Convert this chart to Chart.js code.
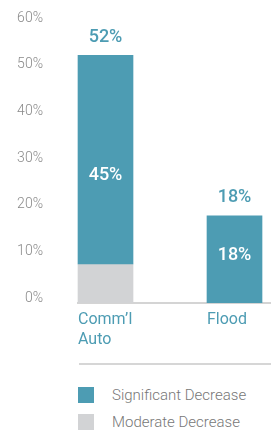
<!DOCTYPE html>
<html>
<head>
<meta charset="utf-8">
<script src="https://cdn.jsdelivr.net/npm/chart.js@4/dist/chart.umd.min.js"></script>
<style>
  html, body { margin: 0; padding: 0; background: #fff; }
  #wrap { position: relative; width: 271px; height: 350px; }
  #legend { position: relative; width: 271px; height: 80px; font-family: Roboto, sans-serif; }
  #sep { position: absolute; left: 79px; top: 13px; width: 192px; height: 2px; background: #d6d6d6; }
  .item { position: absolute; left: 78px; height: 16px; display: flex; align-items: center; }
  .sw { width: 16px; height: 16px; }
  .lt { position: absolute; left: 34px; white-space: nowrap; font-size: 15px; font-weight: 300; color: #777; line-height: 16px; }
</style>
</head>
<body>
<div id="wrap"><canvas id="c"></canvas></div>
<div id="legend">
  <div id="sep"></div>
  <div class="item" style="top:37px"><div class="sw" id="sw0"></div><span class="lt" id="lt0"></span></div>
  <div class="item" style="top:64px"><div class="sw" id="sw1"></div><span class="lt" id="lt1"></span></div>
</div>
<script>
const categories = [["Comm\u2019l", "Auto"], "Flood"];
const seriesNames = ["Significant Decrease", "Moderate Decrease"];
const significant = [44.7, 17.6];
const moderate = [7.3, 0];
const yTicks = [0, 10, 20, 30, 40, 50, 60];

const TEAL = '#4d9cb3';
const GRAY = '#d2d3d5';
const FLOOR = -1;

const modData = moderate.map((m, i) => ({ x: i, y: m > 0 ? [FLOOR, m] : null }));
const sigData = significant.map((s, i) => {
  const start = moderate[i] > 0 ? moderate[i] : FLOOR;
  return { x: i, y: [start, moderate[i] + s] };
});

const labelPlugin = {
  id: 'barLabels',
  afterDatasetsDraw(chart) {
    const ctx = chart.ctx;
    const meta = chart.getDatasetMeta(0);
    const yScale = chart.scales.y;
    ctx.save();
    ctx.textAlign = 'center';
    ctx.textBaseline = 'middle';
    ctx.font = '500 18px Roboto';
    meta.data.forEach((el, i) => {
      const total = significant[i] + moderate[i];
      ctx.fillStyle = TEAL;
      ctx.fillText(Math.round(total) + '%', el.x, el.y - 18);
      ctx.fillStyle = '#ffffff';
      ctx.fillText(Math.round(significant[i]) + '%', el.x, yScale.getPixelForValue(total / 2) - 1);
    });
    ctx.restore();
  }
};

new Chart(document.getElementById('c'), {
  type: 'bar',
  data: {
    datasets: [
      { label: seriesNames[0], data: sigData, backgroundColor: TEAL, grouped: false, barThickness: 55, borderWidth: 0, clip: false },
      { label: seriesNames[1], data: modData, backgroundColor: GRAY, grouped: false, barThickness: 55, borderWidth: 0, clip: false }
    ]
  },
  options: {
    responsive: true,
    maintainAspectRatio: false,
    animation: false,
    layout: { padding: { top: 18, left: 0, right: 0, bottom: 0 } },
    plugins: { legend: { display: false }, tooltip: { enabled: false } },
    scales: {
      x: {
        type: 'linear',
        offset: false,
        min: -0.2132,
        max: 1.2829,
        grid: { display: false, drawTicks: false, offset: false },
        border: { display: true, color: '#d4d4d4', width: 2 },
        afterBuildTicks: (s) => { s.ticks = categories.map((_, i) => ({ value: i })); },
        afterFit: (s) => { s.paddingLeft = 0; s.paddingRight = 0; s.height = 47.3; },
        ticks: {
          align: 'start',
          labelOffset: -27.5,
          padding: 7,
          autoSkip: false,
          maxRotation: 0,
          color: TEAL,
          font: { family: 'Roboto', size: 16, weight: '400', lineHeight: 1.25 },
          callback: (v) => categories[v]
        }
      },
      y: {
        type: 'linear',
        min: FLOOR,
        max: 60,
        grid: { display: false, drawTicks: false },
        border: { display: false },
        afterBuildTicks: (s) => { s.ticks = yTicks.map(v => ({ value: v })); },
        afterFit: (s) => { s.width = 78; s.paddingTop = 0; s.paddingBottom = 0; },
        ticks: {
          padding: 35,
          color: '#8a8a8a',
          font: { family: 'Roboto', size: 14, weight: '300' },
          callback: (v) => v + '%'
        }
      }
    }
  },
  plugins: [labelPlugin]
});

document.getElementById('sw0').style.background = TEAL;
document.getElementById('sw1').style.background = GRAY;
document.getElementById('lt0').textContent = seriesNames[0];
document.getElementById('lt1').textContent = seriesNames[1];
</script>
</body>
</html>
